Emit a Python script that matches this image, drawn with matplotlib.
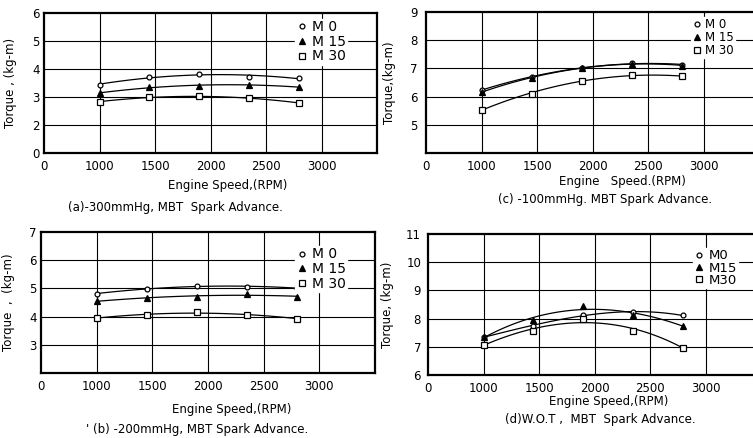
import numpy as np
import matplotlib
matplotlib.use("Agg")
import matplotlib.pyplot as plt
from matplotlib.lines import Line2D

plt.rcParams['font.family'] = ['DejaVu Sans']

speed = [1000, 1450, 1900, 2350, 2800]

# (a) -300 mmHg
a_m0 = [3.44, 3.71, 3.82, 3.71, 3.68]
a_m15 = [3.14, 3.35, 3.40, 3.44, 3.35]
a_m30 = [2.83, 2.99, 3.02, 2.95, 2.79]
# (b) -200 mmHg
b_m0 = [4.81, 4.99, 5.08, 5.05, 5.02]
b_m15 = [4.55, 4.66, 4.70, 4.81, 4.70]
b_m30 = [3.96, 4.04, 4.17, 4.05, 3.93]
# (c) -100 mmHg
c_m0 = [6.24, 6.69, 7.01, 7.19, 7.13]
c_m15 = [6.16, 6.67, 7.00, 7.17, 7.10]
c_m30 = [5.53, 6.10, 6.57, 6.75, 6.72]
# (d) W.O.T
d_m0 = [7.34, 7.75, 8.13, 8.23, 8.11]
d_m15 = [7.34, 7.95, 8.46, 8.11, 7.75]
d_m30 = [7.07, 7.56, 7.98, 7.56, 6.97]

xticks = [500, 1000, 1500, 2000, 2500, 3000]
xticklabels = ["0", "1000", "1500", "2000", "2500", "3000"]

W, H = 753, 438
fig = plt.figure(figsize=(W / 100, H / 100), dpi=100)

def box(l, r, t, b):
    return [l / W, 1 - b / H, (r - l) / W, (b - t) / H]

markers = [dict(marker='o', mfc='white', ms=3.5),
           dict(marker='^', mfc='black', ms=4),
           dict(marker='s', mfc='white', ms=4)]

def panel(rect, series, ylim, yticks, yticklabels, ylabel, ylabx, legend_labels,
          leg_anchor, leg_fs, leg_sp, ypad, deg=2):
    ax = fig.add_axes(rect)
    ax.set_xlim(500, 3500)
    ax.set_ylim(*ylim)
    ax.set_xticks(xticks)
    ax.set_xticklabels(xticklabels)
    ax.set_yticks(yticks)
    ax.set_yticklabels(yticklabels)
    ax.tick_params(length=0, labelsize=8.5, colors='black')
    ax.tick_params(axis='x', pad=5)
    ax.tick_params(axis='y', pad=ypad)
    for s in ax.spines.values():
        s.set_linewidth(1.6)
    for xv in xticks[1:]:
        ax.axvline(xv, color='black', lw=0.8, zorder=1)
    for yv in np.arange(ylim[0] + 1, ylim[1]):
        ax.axhline(yv, color='black', lw=0.8, zorder=1)
    xs = np.linspace(speed[0], speed[-1], 100)
    handles = []
    for vals, mk, lab in zip(series, markers, legend_labels):
        coef = np.polyfit(speed, vals, deg)
        ax.plot(xs, np.polyval(coef, xs), color='black', lw=0.9, zorder=3)
        ax.plot(speed, vals, linestyle='none', color='black', mec='black',
                mew=0.9, zorder=4, **mk)
        handles.append(Line2D([], [], linestyle='none', color='black', mec='black',
                              mew=0.9, **mk))
    leg = ax.legend(handles, legend_labels, loc='upper left', bbox_to_anchor=leg_anchor,
                    fontsize=leg_fs, labelspacing=leg_sp, handlelength=0.8,
                    handletextpad=0.3, borderpad=0.1, borderaxespad=0,
                    frameon=True, fancybox=False)
    leg.get_frame().set_facecolor('white')
    leg.get_frame().set_edgecolor('white')
    leg.get_frame().set_alpha(1)
    leg.set_zorder(5)
    ax.set_ylabel(ylabel, fontsize=8.5)
    ax.yaxis.set_label_coords(ylabx, 0.5)
    return ax

# (a)
panel(box(44, 377, 13, 153), [a_m0, a_m15, a_m30], (1, 6), [1, 2, 3, 4, 5, 6],
      ["0", "2", "3", "4", "5", "6"], "Torque , (kg-m)", -0.081,
      ["M 0", "M 15", "M 30"], (0.755, 0.96), 10, 0.05, 3)
# (c)
panel(box(426, 759.5, 12, 153), [c_m0, c_m15, c_m30], (4, 9), [5, 6, 7, 8, 9],
      ["5", "6", "7", "8", "9"], "Torque,(kg-m)", -0.09,
      ["M 0", "M 15", "M 30"], (0.795, 0.965), 8.5, 0.0, 6)
# (b)
panel(box(41, 375, 232, 373), [b_m0, b_m15, b_m30], (2, 7), [3, 4, 5, 6, 7],
      ["3", "4", "5", "6", "7"], "Torque  ,  (kg-m)", -0.078,
      ["M 0", "M 15", "M 30"], (0.76, 0.9), 10, 0.05, 3)
# (d)
panel(box(428, 761, 234, 375), [d_m0, d_m15, d_m30], (6, 11), [6, 7, 8, 9, 10, 11],
      ["6", "7", "8", "9", "10", "11"], "Torque, (kg-m)", -0.102,
      ["M0", "M15", "M30"], (0.795, 0.9), 9.5, -0.05, 5, deg=3)

def ftext(x, y, s, fs=8.5):
    fig.text(x / W, 1 - y / H, s, ha='center', va='center', fontsize=fs)

ftext(228, 185, "Engine Speed,(RPM)")
ftext(175, 207, "(a)-300mmHg, MBT  Spark Advance.")
ftext(622, 182, "Engine   Speed.(RPM)")
ftext(605, 200, "(c) -100mmHg. MBT Spark Advance.")
ftext(232, 410, "Engine Speed,(RPM)")
ftext(197, 429, "' (b) -200mmHg, MBT Spark Advance.")
ftext(609, 401, "Engine Speed,(RPM)")
ftext(600, 420, "(d)W.O.T ,  MBT  Spark Advance.")

fig.savefig("out.png", dpi=100)
